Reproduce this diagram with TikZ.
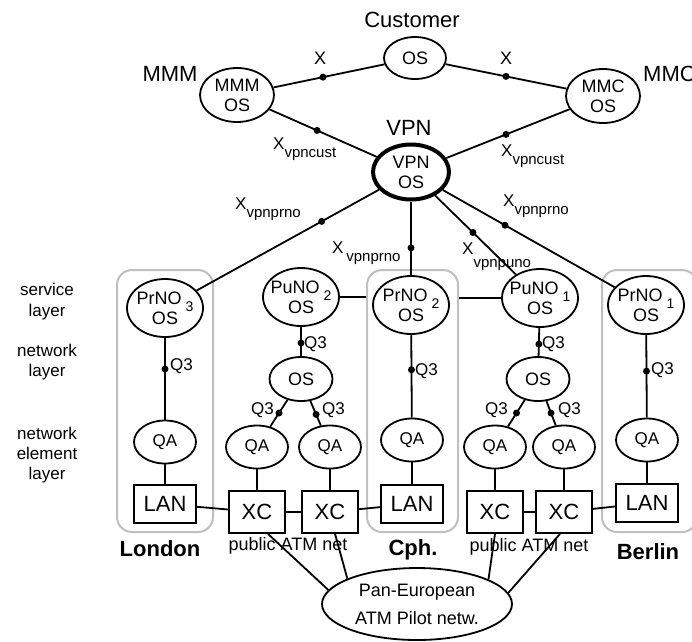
\documentclass[tikz,border=0pt]{standalone}
\usepackage{fontspec}
\setmainfont{Liberation Sans}
\usetikzlibrary{calc,shapes.geometric}
\newcommand\fs[1]{\fontsize{#1}{#1}\selectfont}
\newcommand\nosub[1]{\hspace{4pt}\raisebox{-7pt}{\fs{14}#1}}
\newcommand\xs[2][8pt]{X\raisebox{-#1}{\fs{15}#2}}
\tikzset{el/.style={draw,ellipse,line width=1.8pt,inner xsep=-5pt,inner ysep=-5pt,align=center,font=\fontsize{18}{20}\selectfont},
sel/.style={el,minimum width=76pt,minimum height=58pt},
osel/.style={el,minimum width=63pt,minimum height=44pt},
qa/.style={el,minimum width=62pt,minimum height=43pt,font=\fs{17}},
bx/.style={draw,rectangle,line width=1.8pt,inner sep=0pt,font=\fs{22}},
xcbox/.style={bx,minimum width=56pt,minimum height=42pt},
lanbox/.style={bx,minimum width=62pt,minimum height=38pt},
city/.style={draw=black!25,rounded corners=15pt,line width=2pt,inner sep=0pt,minimum height=262pt},
lnk/.style={line width=1.8pt},
lbl/.style={inner sep=0pt,font=\fs{17}},
big/.style={inner sep=0pt,font=\fs{22}}}
\begin{document}
\begin{tikzpicture}[x=1pt,y=-1pt]
\useasboundingbox(0,0)rectangle(692,641);
\node[city,minimum width=96pt](lonbox)at(165,401){};
\node[city,minimum width=91pt](cphbox)at(412.5,401){};
\node[city,minimum width=95pt](berbox)at(649.5,401){};
\node[big](cust)at(412,20){Customer};
\node[big](mmm)at(170,74){MMM};
\node[big,anchor=west](mmc)at(643,74){MMC};
\node[big](vpn)at(409,128){VPN};
\node[el,minimum width=62pt,minimum height=42pt](cos)at(415,58){OS};
\node[el,minimum width=74pt,minimum height=54pt](mmmos)at(237,95){MMM\\OS};
\node[el,minimum width=74pt,minimum height=54pt](mmcos)at(603,96){MMC\\OS};
\node[el,line width=4pt,minimum width=76pt,minimum height=55pt](vpnos)at(411,172){VPN\\OS};
\node[sel](prno3)at(165,308){PrNO\nosub{3}\\OS};
\node[sel](puno2)at(301,297){PuNO\nosub{2}\\OS};
\node[sel](prno2)at(411,305){PrNO\nosub{2}\\OS};
\node[sel](puno1)at(540,298){PuNO\nosub{1}\\OS};
\node[sel](prno1)at(646,305){PrNO\nosub{1}\\OS};
\node[osel](osl)at(301,379){OS};
\node[osel](osr)at(538,379){OS};
\node[qa](qal)at(165,442){QA};
\node[qa](qa1)at(257,447){QA};
\node[qa](qa2)at(330,447){QA};
\node[qa](qac)at(412,440){QA};
\node[qa](qa3)at(495,447){QA};
\node[qa](qa4)at(564,447){QA};
\node[qa](qab)at(647,440){QA};
\node[lanbox](lanl)at(165,504){LAN};
\node[xcbox](xc1)at(257,512){XC};
\node[xcbox](xc2)at(330,512){XC};
\node[lanbox](lanc)at(412,504){LAN};
\node[xcbox](xc3)at(495,512){XC};
\node[xcbox](xc4)at(564,512){XC};
\node[lanbox](lanb)at(647,503){LAN};
\node[el,minimum width=190pt,minimum height=72pt,font=\fontsize{18}{28}\selectfont](pan)at(417,604){Pan-European\\ATM Pilot netw.};
\node[lbl,font=\fs{18}](xl)at(320,58){X};
\node[lbl,font=\fs{18}](xr)at(506,58){X};
\node[lbl,anchor=base west](lcust1)at(273,149){\xs{vpncust}};
\node[lbl,anchor=base west](lcust2)at(501,156){\xs{vpncust}};
\node[lbl,anchor=base west](lprno3)at(235,209){\xs{vpnprno}};
\node[lbl,anchor=base west](lprno2)at(332,253){X\,\raisebox{-8pt}{\fs{15}vpnprno}};
\node[lbl,anchor=base west](lpuno1)at(462,254){\xs[13pt]{vpnpuno}};
\node[lbl,anchor=base west](lprno1)at(503,206){\xs{vpnprno}};
\node[lbl,anchor=west](q3a)at(170,366){Q3};
\node[lbl,anchor=west](q3b)at(304,344){Q3};
\node[lbl,anchor=east](q3c)at(274,410){Q3};
\node[lbl,anchor=west](q3d)at(322,410){Q3};
\node[lbl,anchor=west](q3e)at(415,371){Q3};
\node[lbl,anchor=west](q3f)at(542,344){Q3};
\node[lbl,anchor=east](q3g)at(508,410){Q3};
\node[lbl,anchor=west](q3h)at(558,410){Q3};
\node[lbl,anchor=west](q3i)at(651,370){Q3};
\node[lbl,align=center,font=\fontsize{17}{21}\selectfont](svc)at(47,302){service\\layer};
\node[lbl,align=center,font=\fontsize{17}{20}\selectfont](netl)at(47,362){network\\layer};
\node[lbl,align=center,font=\fontsize{17}{20}\selectfont](nel)at(47,455){network\\element\\layer};
\node[big,font=\fs{22}\bfseries](lon)at(160,549){London};
\node[big,font=\fs{22}\bfseries](cph)at(413,550){Cph.};
\node[big,font=\fs{22}\bfseries](ber)at(648,552){Berlin};
\node[lbl,font=\fs{18}](atm1)at(288,546){public ATM net};
\node[lbl,font=\fs{18}](atm2)at(529,547){public ATM net};
\foreach\a/\b in{mmmos/cos,cos/mmcos,mmmos/vpnos,mmcos/vpnos,vpnos/prno3,vpnos/prno2,vpnos/puno1,vpnos/prno1,prno3/qal,qal/lanl,puno2/osl,osl/qa1,osl/qa2,qa1/xc1,qa2/xc2,xc1/xc2,lanl/xc1,xc2/lanc,prno2/qac,qac/lanc,puno1/osr,osr/qa3,osr/qa4,qa3/xc3,qa4/xc4,xc3/xc4,xc4/lanb,prno1/qab,qab/lanb}\draw[lnk](\a)--(\b);
\draw[lnk](puno2)--(puno2-|cphbox.west);
\draw[lnk](cphbox.east|-puno1)--(puno1);
\draw[lnk]([xshift=11pt]xc1.south)--(pan.171);
\draw[lnk]([xshift=5pt]xc2.south)--(pan.160);
\draw[lnk](xc3.south)--(pan.19);
\draw[lnk]([xshift=-4pt]xc4.south)--(pan.7);
\foreach\a/\b/\p in{mmmos/cos/0.483,cos/mmcos/0.484,mmmos/vpnos/0.46,mmcos/vpnos/0.505,vpnos/prno3/0.363,vpnos/prno2/0.57,vpnos/puno1/0.48,vpnos/prno1/0.40,prno3/qal/0.455,puno2/osl/0.56,osl/qa1/0.5,osl/qa2/0.52,prno2/qac/0.48,puno1/osr/0.57,osr/qa3/0.5,osr/qa4/0.5,prno1/qab/0.49}\fill($(\a)!\p!(\b)$)circle(3.5pt);
\end{tikzpicture}
\end{document}
